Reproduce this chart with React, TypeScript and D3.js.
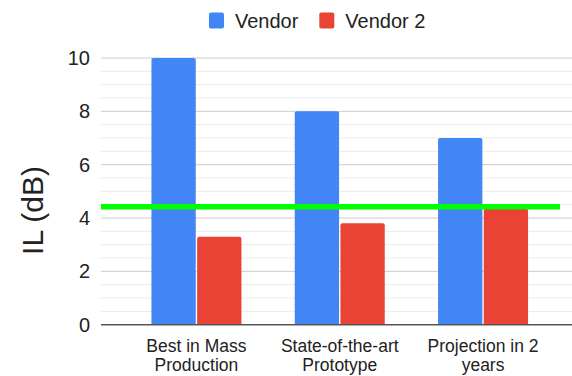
import React from "react";
import * as d3 from "d3";

// Insertion loss per design stage, two vendors
const categories: string[][] = [
  ["Best in Mass", "Production"],
  ["State-of-the-art", "Prototype"],
  ["Projection in 2", "years"],
];
const seriesNames = ["Vendor", "Vendor 2"];
const vendorValues = [10, 8, 7];
const vendor2Values = [3.3, 3.8, 4.35];
const targetLevel = [4.42];
const yTicks = [0, 2, 4, 6, 8, 10];

const colors = ["#4285f4", "#ea4335"];
const FONT = "Arial, 'Liberation Sans', sans-serif";

const W = 572;
const H = 376;

function topRoundedBar(x: number, y: number, w: number, h: number, r: number) {
  const rr = Math.min(r, w / 2, h);
  return `M${x},${y + h}V${y + rr}Q${x},${y} ${x + rr},${y}H${x + w - rr}Q${x + w},${y} ${x + w},${y + rr}V${y + h}Z`;
}

export default function App() {
  const keys = categories.map((c) => c.join(" "));
  const x0 = d3
    .scaleBand<string>()
    .domain(keys)
    .range([101, 578.5])
    .paddingInner(0.372)
    .paddingOuter(0.352);
  const x1 = d3
    .scaleBand<string>()
    .domain(seriesNames)
    .range([0, x0.bandwidth()])
    .paddingInner(0.03);
  const y = d3.scaleLinear().domain([0, 10]).range([324.7, 58]);

  const minor = d3.range(0.5, 10.01, 0.5).filter((v) => !yTicks.includes(v));
  const series = [vendorValues, vendor2Values];

  return (
    <div style={{ position: "absolute", left: 0, top: 0 }}>
      <svg width={W} height={H} style={{ display: "block", background: "#fff" }}>
        {/* minor gridlines */}
        {minor.map((v) => (
          <line key={"m" + v} x1={101} x2={W} y1={y(v)} y2={y(v)} stroke="#ebebeb" strokeWidth={1} />
        ))}
        {/* major gridlines */}
        {yTicks
          .filter((v) => v !== 0)
          .map((v) => (
            <line key={"g" + v} x1={101} x2={W} y1={y(v)} y2={y(v)} stroke="#cccccc" strokeWidth={1} />
          ))}
        {/* tick labels */}
        {yTicks.map((v) => (
          <text
            key={"t" + v}
            x={90}
            y={y(v) + 7}
            textAnchor="end"
            fontFamily={FONT}
            fontSize={20}
            fill="#222"
          >
            {v}
          </text>
        ))}
        {/* bars */}
        {keys.map((k, i) => (
          <g key={k} transform={`translate(${x0(k)},0)`}>
            {seriesNames.map((s, j) => {
              const v = series[j][i];
              return (
                <path
                  key={s}
                  d={topRoundedBar(x1(s)!, y(v), x1.bandwidth(), y(0) - y(v), 2)}
                  fill={colors[j]}
                />
              );
            })}
          </g>
        ))}
        {/* baseline */}
        <line x1={101} x2={W} y1={y(0)} y2={y(0)} stroke="#555" strokeWidth={1.5} />
        {/* target level */}
        {targetLevel.map((v, i) => (
          <line key={"tl" + i} x1={101} x2={560} y1={y(v)} y2={y(v)} stroke="#00ff00" strokeWidth={5.5} />
        ))}
        {/* category labels */}
        {categories.map((lines, i) => (
          <text
            key={"c" + i}
            textAnchor="middle"
            fontFamily={FONT}
            fontSize={17.5}
            fill="#222"
          >
            {lines.map((ln, li) => (
              <tspan key={li} x={x0(keys[i])! + x0.bandwidth() / 2} y={351.7 + li * 19}>
                {ln}
              </tspan>
            ))}
          </text>
        ))}
        {/* y axis title */}
        <text
          transform="translate(43,210.5) rotate(-90)"
          textAnchor="middle"
          fontFamily={FONT}
          fontSize={30}
          fill="#222"
        >
          IL (dB)
        </text>
        {/* legend */}
        {seriesNames.map((s, j) => {
          const lx = [209, 319.3][j];
          return (
            <g key={"l" + s}>
              <rect x={lx} y={12.5} width={15} height={16} rx={2} fill={colors[j]} />
              <text x={lx + 26} y={28.3} fontFamily={FONT} fontSize={20} fill="#222">
                {s}
              </text>
            </g>
          );
        })}
      </svg>
    </div>
  );
}
